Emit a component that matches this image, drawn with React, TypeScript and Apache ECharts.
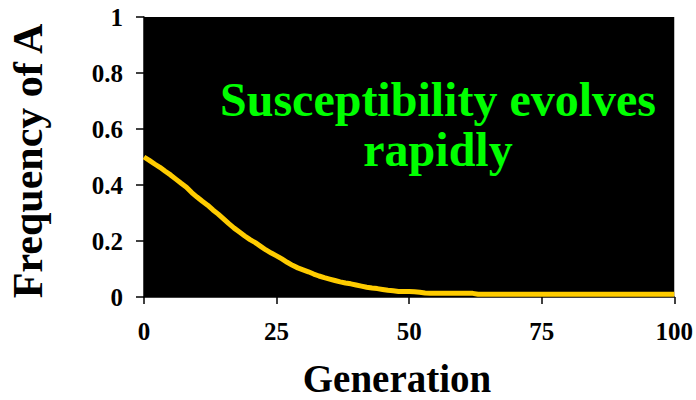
import React, { useEffect, useRef } from "react";
import * as echarts from "echarts";

// Frequency of allele A per generation (0..100)
const generations: number[] = Array.from({ length: 101 }, (_, i) => i);
const frequencyA: number[] = [
  0.500, 0.488, 0.475, 0.463, 0.449, 0.436, 0.421, 0.406, 0.392, 0.373,
  0.357, 0.342, 0.328, 0.311, 0.296, 0.279, 0.262, 0.246, 0.232, 0.218,
  0.205, 0.194, 0.181, 0.168, 0.157, 0.147, 0.136, 0.124, 0.113, 0.104,
  0.097, 0.090, 0.082, 0.075, 0.069, 0.064, 0.059, 0.054, 0.050, 0.047,
  0.043, 0.039, 0.035, 0.032, 0.030, 0.027, 0.024, 0.022, 0.020, 0.020,
  0.020, 0.019, 0.017, 0.014, 0.013, 0.013, 0.013, 0.013, 0.013, 0.013,
  0.013, 0.013, 0.013, 0.010, 0.010, 0.010, 0.010, 0.010, 0.010, 0.010,
  0.010, 0.010, 0.010, 0.010, 0.010, 0.010, 0.010, 0.010, 0.010, 0.010,
  0.010, 0.010, 0.010, 0.010, 0.010, 0.010, 0.010, 0.010, 0.010, 0.010,
  0.010, 0.010, 0.010, 0.010, 0.010, 0.010, 0.010, 0.010, 0.010, 0.010,
  0.010,
];

const xTitle = "Generation";
const yTitle = "Frequency of A";
const noteLines = ["Susceptibility evolves", "rapidly"];

const SERIF = "'Liberation Serif', 'Times New Roman', serif";

export default function App() {
  const ref = useRef<HTMLDivElement>(null);

  useEffect(() => {
    if (!ref.current) return;
    const chart = echarts.init(ref.current, undefined, { renderer: "svg" });

    const axisLabelStyle = {
      color: "#000",
      fontFamily: SERIF,
      fontWeight: "bold" as const,
      fontSize: 25,
    };

    chart.setOption({
      animation: false,
      backgroundColor: "#fff",
      grid: {
        left: 144,
        top: 17,
        right: 20,
        bottom: 103,
        show: true,
        backgroundColor: "#000",
        borderWidth: 0,
      },
      xAxis: {
        type: "value",
        min: 0,
        max: 100,
        interval: 25,
        axisLine: { show: true, lineStyle: { color: "#000", width: 1.5 } },
        axisTick: { show: true, length: 7, lineStyle: { color: "#000", width: 1.5 } },
        splitLine: { show: false },
        axisLabel: { ...axisLabelStyle, margin: 22 },
      },
      yAxis: {
        type: "value",
        min: 0,
        max: 1,
        interval: 0.2,
        axisLine: { show: true, lineStyle: { color: "#000", width: 1.5 } },
        axisTick: { show: true, length: 8, lineStyle: { color: "#000", width: 1.5 } },
        splitLine: { show: false },
        axisLabel: { ...axisLabelStyle, margin: 21 },
      },
      series: [
        {
          type: "line",
          data: generations.map((g, i) => [g, frequencyA[i]]),
          showSymbol: false,
          lineStyle: { color: "#FFCC00", width: 5 },
          clip: false,
        },
      ],
      graphic: [
        {
          type: "text",
          x: 397,
          y: 378,
          style: {
            text: xTitle,
            fill: "#000",
            font: `bold 39px ${SERIF}`,
            textAlign: "center",
            textVerticalAlign: "middle",
          },
        },
        {
          type: "text",
          x: 28,
          y: 161,
          rotation: Math.PI / 2,
          style: {
            text: yTitle,
            fill: "#000",
            font: `bold 42px ${SERIF}`,
            textAlign: "center",
            textVerticalAlign: "middle",
          },
        },
        {
          type: "text",
          x: 438,
          y: 99,
          style: {
            text: noteLines[0],
            fill: "#00FF00",
            font: `bold 48px ${SERIF}`,
            textAlign: "center",
            textVerticalAlign: "middle",
          },
        },
        {
          type: "text",
          x: 438,
          y: 149,
          style: {
            text: noteLines[1],
            fill: "#00FF00",
            font: `bold 48px ${SERIF}`,
            textAlign: "center",
            textVerticalAlign: "middle",
          },
        },
      ],
    });

    return () => chart.dispose();
  }, []);

  return (
    <div
      ref={ref}
      style={{ position: "fixed", left: 0, top: 0, width: 696, height: 400 }}
    />
  );
}
